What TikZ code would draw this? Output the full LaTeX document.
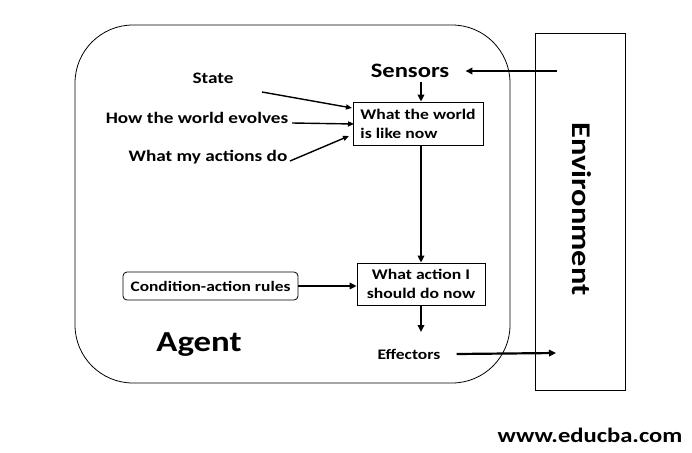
\documentclass[tikz,border=0pt]{standalone}
\usepackage{fontspec}
\setmainfont[FakeStretch=1.2]{Carlito}
\usetikzlibrary{arrows.meta}

\begin{document}
\begin{tikzpicture}[x=1pt,y=-1pt,
    lbl/.style={font=\fontsize{16}{18}\selectfont\bfseries, inner sep=1pt},
    box/.style={draw, line width=0.8pt, font=\fontsize{14.7}{19}\selectfont\bfseries, inner sep=2pt},
    arr/.style={line width=2.2pt, -{Triangle[length=7pt,width=6.5pt]}},
    thinarr/.style={line width=1.4pt, -{Triangle[length=6pt,width=5pt]}}
    ]
    \useasboundingbox (0,0) rectangle (692,452);

    % agent and environment
    \draw[line width=0.8pt, rounded corners=58pt] (75,25) rectangle (510,383);
    \node [draw, line width=0.8pt, minimum width=90pt, minimum height=357pt] (env) at (580,211.5) {};
    \node [font=\fontsize{27}{30}\selectfont\bfseries, rotate=-90] (envtxt) at (582,209) {Environment};

    % labels
    \node [lbl, font=\fontsize{20.5}{22}\selectfont\bfseries] (sens) at (410,71) {Sensors};
    \node [lbl] (state) at (213,78) {State};
    \node [lbl] (evolve) at (197,118) {How the world evolves};
    \node [lbl] (actdo) at (208,157) {What my actions do};
    \node [lbl, font=\fontsize{14.6}{17}\selectfont\bfseries] (eff) at (409,354) {Effectors};
    \node [font=\fontsize{29}{32}\selectfont\bfseries] (agent) at (199,345) {Agent};
    \node [font=\fontsize{20.5}{22}\selectfont\bfseries] (web) at (590,435) {www.educba.com};

    % boxes
    \node [box, minimum width=130pt, minimum height=43pt, align=left] (world) at (418,123.5) {What the world\\is like now};
    \node [box, minimum width=128pt, minimum height=42pt, align=center] (action) at (421,284) {What action I\\ should do now};
    \node [box, rounded corners=4pt, minimum width=175pt, minimum height=28pt, font=\fontsize{14.5}{16}\selectfont\bfseries] (rules) at (210.5,286) {Condition-action rules};

    % free ends
    \coordinate (envin) at (557,71);
    \coordinate (envout) at (556,353);
    \coordinate (down) at (421,82);
    \coordinate (effin) at (421,332);
    \coordinate (statestart) at (262,92);
    \coordinate (evolvestart) at (292,123);
    \coordinate (actstart) at (290,161);

    % arrows
    \draw [arr] (envin) -- ([xshift=15pt]sens.east);
    \draw [arr] (down) -- (world.north -| down);
    \draw [thinarr] (statestart) -- (352,108);
    \draw [thinarr] (evolvestart) -- (354,124);
    \draw [thinarr] (actstart) -- (349,136);
    \draw [arr] (world.south -| down) -- (action.north -| down);
    \draw [arr] (rules.east) -- (rules.east -| action.west);
    \draw [arr] (action.south -| down) -- (effin);
    \draw [arr] ([xshift=15pt]eff.east) -- (envout);
  \end{tikzpicture}
\end{document}
